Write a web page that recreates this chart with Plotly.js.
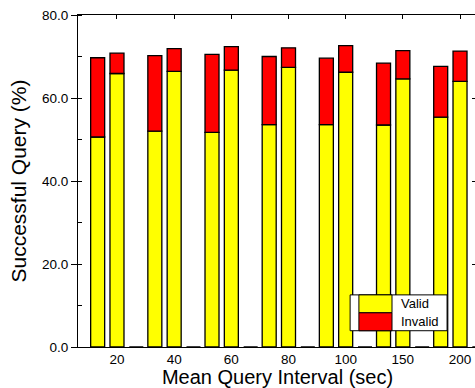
<!DOCTYPE html>
<html><head><meta charset="utf-8">
<script src="https://cdn.plot.ly/plotly-3.0.1.min.js"></script>
<style>html,body{margin:0;padding:0;overflow:hidden;background:#fff}</style>
</head><body><div id="chart" style="width:480px;height:388px"></div>
<script>
const categories = ['20','40','60','80','100','150','200'];
const validA   = [50.6, 52.0, 51.7, 53.6, 53.6, 53.5, 55.4];
const invalidA = [19.1, 18.2, 18.8, 16.4, 16.0, 14.9, 12.2];
const validB   = [65.9, 66.4, 66.7, 67.4, 66.2, 64.6, 64.0];
const invalidB = [4.9, 5.5, 5.7, 4.7, 6.4, 6.8, 7.3];
const emptyC   = [0, 0, 0, 0, 0, 0, 0];
const legendLabels = ['Valid', 'Invalid'];

const xpos = categories.map((c, i) => i + 1);
const W = 0.245, P = 0.338;
const YEL = '#ffff00', RED = '#ff0000';
const line = {color: '#000', width: 1.3};

function bar(y, base, off, color) {
  const t = {type: 'bar', x: xpos, y: y, offset: off - W / 2, width: W,
    marker: {color: color, line: line}, showlegend: false, hoverinfo: 'skip'};
  if (base) t.base = base;
  return t;
}
const data = [
  bar(validA, null, -P, YEL),
  bar(invalidA, validA, -P, RED),
  bar(validB, null, 0, YEL),
  bar(invalidB, validB, 0, RED),
  bar(emptyC, null, P, RED),
  {type: 'scatter', x: [null], y: [null], xaxis: 'x2', yaxis: 'y2', showlegend: false, hoverinfo: 'skip'}
];

const xr = [0.318, 7.297];
const font = {family: '"Liberation Sans", Arial, Helvetica, sans-serif', color: '#000'};
const layout = {
  width: 480, height: 388,
  margin: {l: 78, r: 3, t: 15, b: 41},
  barmode: 'overlay',
  paper_bgcolor: '#fff', plot_bgcolor: '#fff',
  font: font,
  xaxis: {range: xr, tickvals: xpos, ticktext: categories, ticks: '', showline: true,
    linecolor: '#000', linewidth: 1, showgrid: false, zeroline: false,
    tickfont: {size: 13.5}, title: {text: 'Mean Query Interval (sec)', font: {size: 20}, standoff: 5}},
  xaxis2: {range: xr, overlaying: 'x', side: 'top', tickvals: xpos, ticks: 'inside', ticklen: 4,
    tickcolor: '#000', showticklabels: false, showline: true, linecolor: '#000', linewidth: 1,
    showgrid: false, zeroline: false},
  yaxis: {range: [0, 80], dtick: 20, tickformat: '.1f', ticks: 'outside', ticklen: 6, tickcolor: '#000',
    minor: {dtick: 10, ticks: 'inside', ticklen: 4, tickcolor: '#000'},
    showline: true, linecolor: '#000', linewidth: 1, showgrid: false, zeroline: false,
    tickfont: {size: 13.5}, title: {text: 'Successful Query (%)', font: {size: 21}, standoff: 9}},
  yaxis2: {range: [0, 80], overlaying: 'y', side: 'right', dtick: 20, ticks: 'inside', ticklen: 5,
    tickcolor: '#000', showticklabels: false, showline: false, showgrid: false, zeroline: false},
  shapes: [
    {type: 'rect', xref: 'paper', yref: 'paper', x0: 0.682, x1: 0.925, y0: 0.049, y1: 0.157,
      line: {color: '#000', width: 1}, fillcolor: '#fff'},
    {type: 'rect', xref: 'paper', yref: 'paper', x0: 0.704, x1: 0.787, y0: 0.103, y1: 0.157,
      line: {color: '#000', width: 1}, fillcolor: YEL},
    {type: 'rect', xref: 'paper', yref: 'paper', x0: 0.704, x1: 0.787, y0: 0.049, y1: 0.103,
      line: {color: '#000', width: 1}, fillcolor: RED}
  ],
  annotations: [
    {xref: 'paper', yref: 'paper', x: 0.805, y: 0.130, text: legendLabels[0], showarrow: false,
      xanchor: 'left', yanchor: 'middle', font: {size: 13}},
    {xref: 'paper', yref: 'paper', x: 0.805, y: 0.076, text: legendLabels[1], showarrow: false,
      xanchor: 'left', yanchor: 'middle', font: {size: 13}}
  ]
};
Plotly.newPlot('chart', data, layout, {displayModeBar: false, staticPlot: true});
</script></body></html>
